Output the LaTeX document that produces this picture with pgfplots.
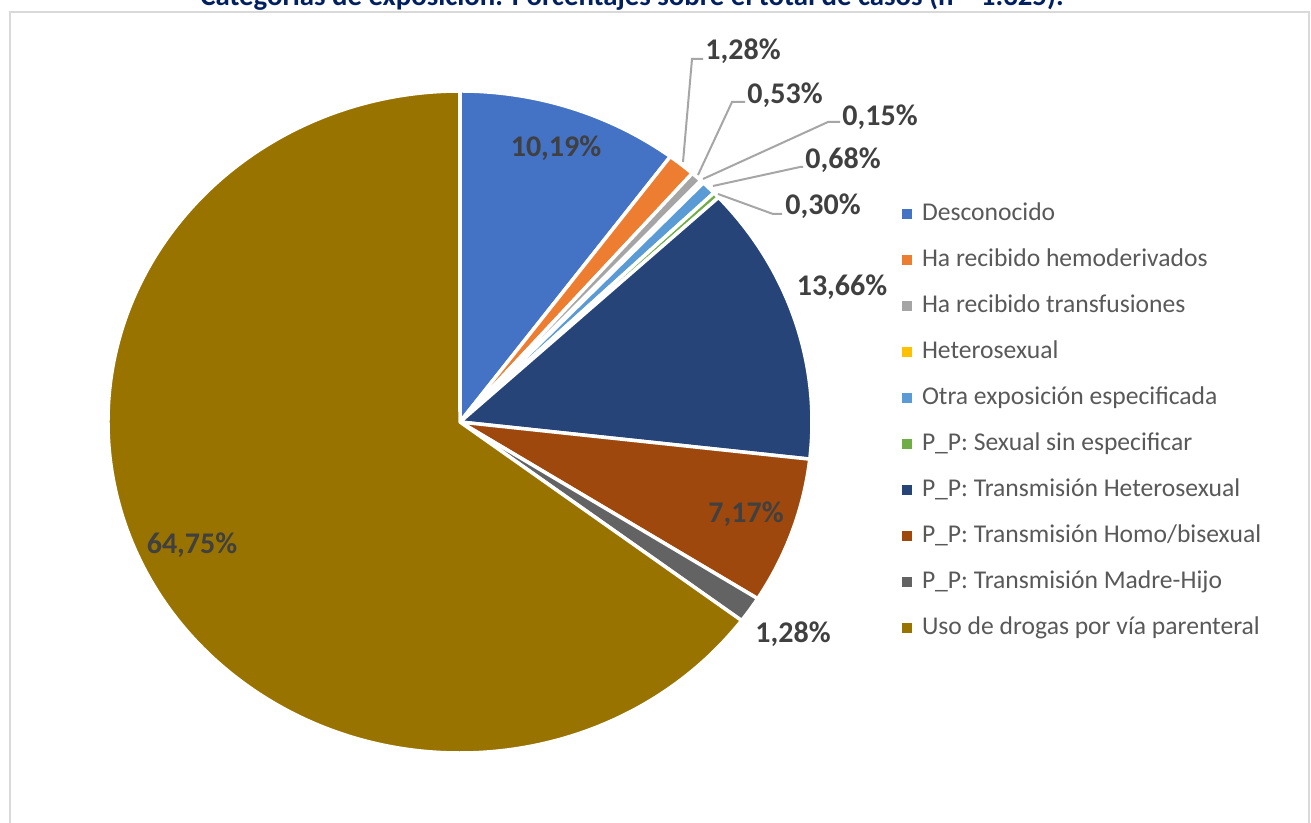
\documentclass[border=0pt]{standalone}
\usepackage{pgfplots}
\pgfplotsset{compat=1.18}
\usepackage{fontspec}
\setmainfont{Carlito}
\definecolor{cDes}{HTML}{4472C4}
\definecolor{cHem}{HTML}{ED7D31}
\definecolor{cTra}{HTML}{A5A5A5}
\definecolor{cHet}{HTML}{FFC000}
\definecolor{cOtr}{HTML}{5B9BD5}
\definecolor{cSex}{HTML}{70AD47}
\definecolor{cTH}{HTML}{264478}
\definecolor{cHom}{HTML}{9E480E}
\definecolor{cMad}{HTML}{636363}
\definecolor{cUDVP}{HTML}{997300}
\definecolor{cLab}{HTML}{404040}
\definecolor{cLeg}{HTML}{595959}
\definecolor{cLead}{HTML}{A6A6A6}
\definecolor{cBorder}{HTML}{D9D9D9}
\definecolor{cTitle}{HTML}{002060}
\begin{document}
\begin{tikzpicture}[x=0.5pt,y=0.5pt]
\path[use as bounding box] (0,0) rectangle (1311,823);
\clip (0,0) rectangle (1311,823);
\fill[white] (0,0) rectangle (1311,823);
\draw[cBorder, line width=1pt] (10,811) rectangle (1309,-10);
\begin{axis}[
  at={(0pt,0pt)}, anchor=south west,
  scale only axis, width=655.5pt, height=411.5pt,
  xmin=0, xmax=1311, ymin=0, ymax=823,
  hide axis, clip=false,
  legend style={at={(axis cs:902,622)}, anchor=north west, draw=none, fill=none,
    inner sep=0pt, outer sep=0pt,
    font=\fontsize{12.8pt}{15pt}\selectfont, text=cLeg,
    row sep=10pt, column sep=5pt,
    nodes={inner sep=0pt, text height=10pt, text depth=3pt}},
  legend cell align=left,
  legend image code/.code={\fill[#1, draw=none] (0pt,-2.5pt) rectangle (5pt,2.5pt);},
]
\pgfplotsextra{
  \gdef\cum{0}
  \foreach \p/\c in {10.19/cDes,1.28/cHem,0.53/cTra,0.15/cHet,0.68/cOtr,0.30/cSex,13.66/cTH,7.17/cHom,1.28/cMad,64.75/cUDVP}{
    \pgfmathsetmacro\a{90-3.6*\cum}
    \pgfmathsetmacro\b{90-3.6*(\cum+\p)}
    \fill[fill=\c, draw=white, line width=1.75pt, line join=round]
      (axis cs:460,401) -- ++(\a:176pt and 165.5pt)
      arc[start angle=\a, end angle=\b, x radius=176pt, y radius=165.5pt] -- cycle;
    \pgfmathsetmacro\n{\cum+\p}
    \xdef\cum{\n}
  }
}
\addlegendimage{fill=cDes, draw=none}\addlegendentry{Desconocido}
\addlegendimage{fill=cHem, draw=none}\addlegendentry{Ha recibido hemoderivados}
\addlegendimage{fill=cTra, draw=none}\addlegendentry{Ha recibido transfusiones}
\addlegendimage{fill=cHet, draw=none}\addlegendentry{Heterosexual}
\addlegendimage{fill=cOtr, draw=none}\addlegendentry{Otra exposición especificada}
\addlegendimage{fill=cSex, draw=none}\addlegendentry{P\_P: Sexual sin especificar}
\addlegendimage{fill=cTH, draw=none}\addlegendentry{P\_P: Transmisión Heterosexual}
\addlegendimage{fill=cHom, draw=none}\addlegendentry{P\_P: Transmisión Homo/bisexual}
\addlegendimage{fill=cMad, draw=none}\addlegendentry{P\_P: Transmisión Madre-Hijo}
\addlegendimage{fill=cUDVP, draw=none}\addlegendentry{Uso de drogas por vía parenteral}
% leader lines
\draw[cLead, line width=1pt] (axis cs:683,661) -- (axis cs:692,764) -- (axis cs:703,764);
\draw[cLead, line width=1pt] (axis cs:698,648) -- (axis cs:732,721) -- (axis cs:745,721);
\draw[cLead, line width=1pt] (axis cs:703,644) -- (axis cs:828,701) -- (axis cs:840,701);
\draw[cLead, line width=1pt] (axis cs:713,637) -- (axis cs:800,656) -- (axis cs:803,656);
\draw[cLead, line width=1pt] (axis cs:718,629) -- (axis cs:773,609) -- (axis cs:782,609);
% data labels
\tikzset{lab/.style={text=cLab, font=\fontsize{15pt}{18pt}\selectfont\bfseries, inner sep=0pt}}
\node[lab, anchor=base west] at (axis cs:705,763) {1,28\%};
\node[lab, anchor=base west] at (axis cs:747,719) {0,53\%};
\node[lab, anchor=base west] at (axis cs:842,697) {0,15\%};
\node[lab, anchor=base west] at (axis cs:805,654) {0,68\%};
\node[lab, anchor=base west] at (axis cs:785,608) {0,30\%};
\node[lab, anchor=base] at (axis cs:556,666) {10,19\%};
\node[lab, anchor=base] at (axis cs:192,269) {64,75\%};
\node[lab, anchor=base] at (axis cs:842,527) {13,66\%};
\node[lab, anchor=base] at (axis cs:746,300) {7,17\%};
\node[lab, anchor=base] at (axis cs:793,180) {1,28\%};
% title (cut off at the top, as in the reference)
\node[anchor=base, inner sep=0pt, text=cTitle, font=\fontsize{14.4pt}{17pt}\selectfont\bfseries] at (axis cs:632,817) {Categorías de exposición. Porcentajes sobre el total de casos (n = 1.325).};
\end{axis}
\end{tikzpicture}
\end{document}
